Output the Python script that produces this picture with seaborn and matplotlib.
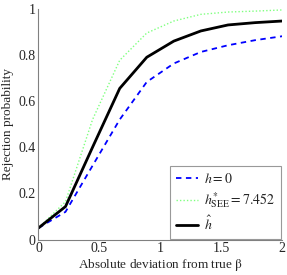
import matplotlib
matplotlib.use('Agg')
import matplotlib.pyplot as plt
import seaborn as sns
import pandas as pd

deviation = [0.0, 0.222, 0.444, 0.667, 0.889, 1.111, 1.333, 1.556, 1.778, 2.0]
h_zero = [0.05, 0.12, 0.32, 0.52, 0.683, 0.763, 0.813, 0.842, 0.864, 0.881]
h_see = [0.05, 0.164, 0.52, 0.777, 0.895, 0.947, 0.976, 0.986, 0.99, 0.995]
h_hat = [0.05, 0.143, 0.40, 0.655, 0.79, 0.86, 0.904, 0.93, 0.94, 0.947]

labels = [r'$h=0$', r'$h^{*}_{\mathrm{SEE}}=7.452$', r'$\hat{h}$']

sns.set_style("white")
plt.rcParams['font.family'] = ['Liberation Serif', 'DejaVu Serif']
plt.rcParams['mathtext.fontset'] = 'stix'

df = pd.DataFrame({
    'x': deviation * 3,
    'y': h_zero + h_see + h_hat,
    'series': [labels[0]] * 10 + [labels[1]] * 10 + [labels[2]] * 10,
})

fig = plt.figure(figsize=(2.87, 2.75), dpi=100)
ax = fig.add_axes([0.134, 0.129, 0.849, 0.839])

styles = {
    labels[0]: dict(color='#0000ff', ls=(0, (3, 2.5)), lw=1.3),
    labels[1]: dict(color='#80ff80', ls=(0, (1, 1.5)), lw=1.0),
    labels[2]: dict(color='black', ls='-', lw=2.0),
}
for lab in labels:
    sub = df[df['series'] == lab]
    sns.lineplot(data=sub, x='x', y='y', ax=ax, label=lab, **styles[lab])

ax.set_xlim(0, 2)
ax.set_ylim(0, 1)
ax.set_xticks([0, 0.5, 1, 1.5, 2])
ax.set_xticklabels(['0', '0.5', '1', '1.5', '2'])
ax.set_yticks([0, 0.2, 0.4, 0.6, 0.8, 1])
ax.set_yticklabels(['0', '0.2', '0.4', '0.6', '0.8', '1'])
ax.tick_params(direction='in', length=3, labelsize=10, pad=2, color='#808080')
for s in ['top', 'right']:
    ax.spines[s].set_visible(False)
for s in ['left', 'bottom']:
    ax.spines[s].set_color('#808080')
    ax.spines[s].set_linewidth(0.8)

ax.set_xlabel(r'Absolute deviation from true $\mathrm{\beta}$', fontsize=9.5, labelpad=1)
ax.set_ylabel('Rejection probability', fontsize=9.5, labelpad=3)

leg = ax.legend(loc='lower right', fontsize=10, frameon=True, fancybox=False,
                handlelength=1.6, handletextpad=0.4, borderpad=0.45,
                labelspacing=0.3, borderaxespad=0.05)
leg.get_frame().set_edgecolor('#808080')
leg.get_frame().set_linewidth(0.8)

fig.savefig('out.png', dpi=100)
